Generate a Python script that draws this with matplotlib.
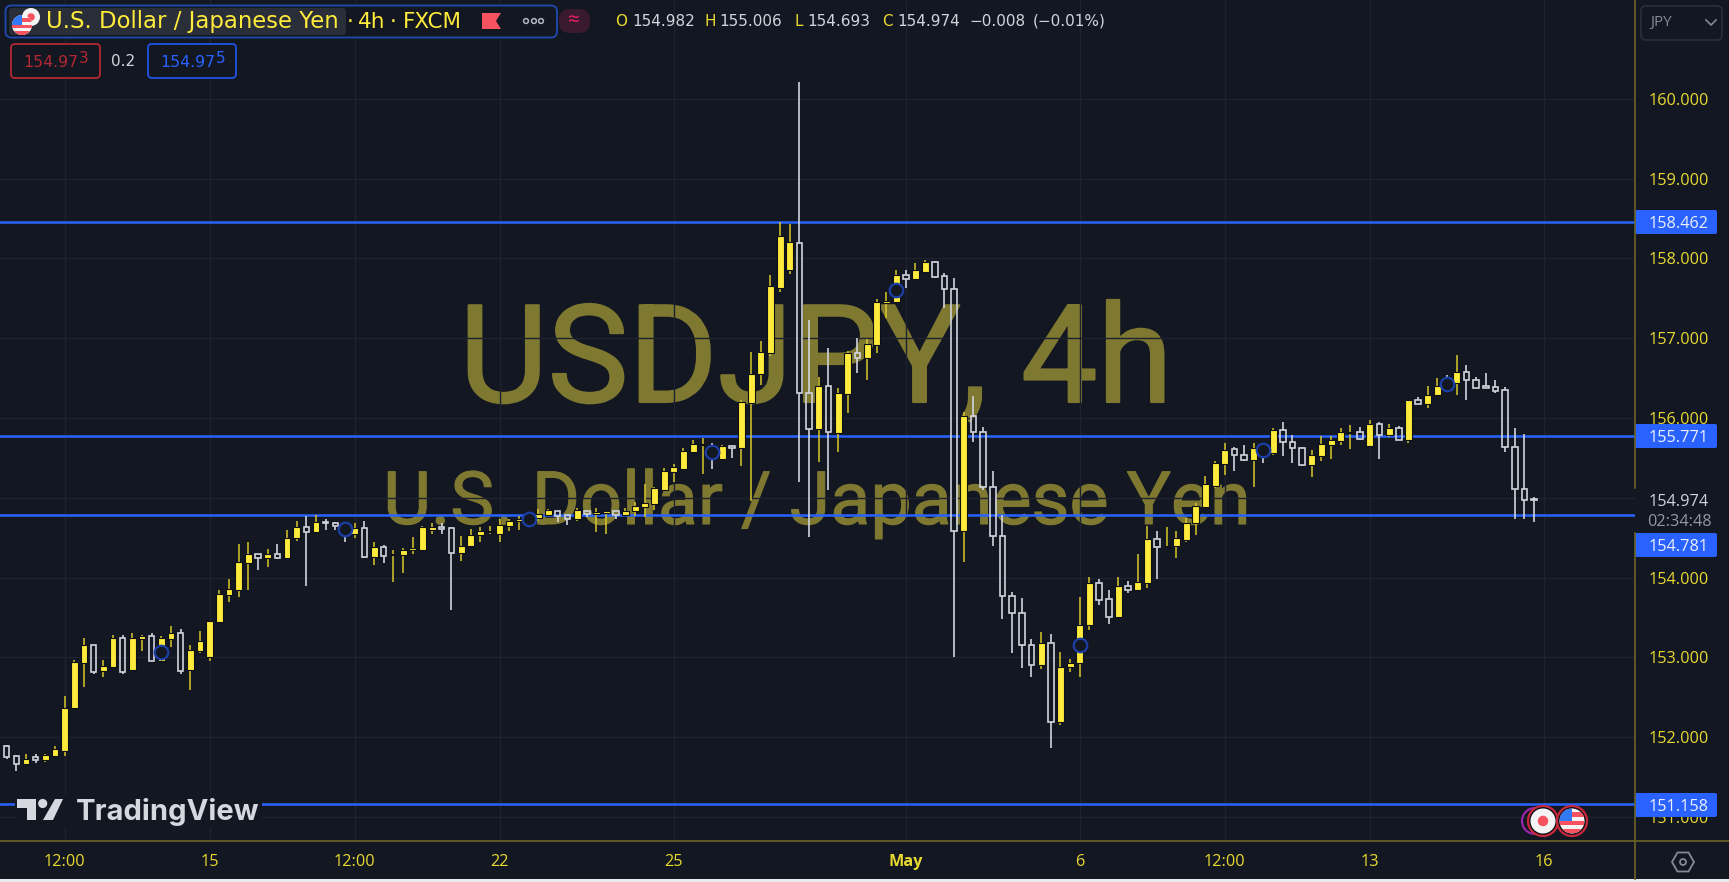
import matplotlib
matplotlib.use("Agg")
import matplotlib.pyplot as plt
import matplotlib.patheffects as pe
from matplotlib.patches import Circle, FancyBboxPatch, Polygon, Rectangle

plt.rcParams["font.family"] = ["Open Sans", "DejaVu Sans"]

W, H = 1729, 882
BG = "#131722"
YELLOW = "#ffeb3b"
WICK_YELLOW = "#d9c82c"
WHITE = "#d1d4dc"
BLUE = "#2962ff"
OLIVE = "#6b6426"
TICK = "#e8d931"

# 4h candles
opens = [151.89, 151.77, 151.66, 151.75, 151.71, 151.77, 151.83, 152.36, 152.93, 153.15,
         152.83, 152.88, 153.24, 152.84, 153.23, 153.27, 152.96, 153.23, 153.31, 152.84,
         153.08, 153.01, 153.44, 153.78, 153.85, 154.18, 154.29, 154.25, 154.29, 154.25,
         154.49, 154.63, 154.57, 154.70, 154.69, 154.63, 154.55, 154.62, 154.26, 154.38,
         154.28, 154.28, 154.34, 154.35, 154.60, 154.63, 154.62, 154.31, 154.40, 154.53,
         154.57, 154.54, 154.65, 154.71, 154.71, 154.75, 154.78, 154.83, 154.78, 154.73,
         154.84, 154.80, 154.81, 154.83, 154.78, 154.83, 154.89, 154.92, 155.10, 155.32,
         155.36, 155.57, 155.66, 155.62, 155.49, 155.65, 155.62, 156.19, 156.55, 156.81,
         157.63, 157.85, 158.19, 156.31, 155.86, 156.40, 155.81, 156.30, 156.81, 156.75,
         156.91, 157.44, 157.45, 157.79, 157.74, 157.83, 157.95, 157.78, 157.62, 154.58,
         156.02, 155.83, 155.14, 154.52, 153.77, 153.56, 153.16, 152.90, 153.18, 152.19,
         152.88, 152.93, 153.40, 153.93, 153.73, 153.51, 153.90, 153.85, 153.93, 154.48,
         154.38, 154.40, 154.47, 154.68, 154.89, 155.15, 155.42, 155.61, 155.54, 155.47,
         155.63, 155.56, 155.85, 155.70, 155.63, 155.41, 155.52, 155.66, 155.71, 155.81,
         155.82, 155.65, 155.93, 155.79, 155.88, 155.73, 156.23, 156.18, 156.29, 156.48,
         156.44, 156.58, 156.48, 156.40, 156.39, 156.35, 155.64, 155.11, 154.982]
highs = [151.90, 151.78, 151.79, 151.79, 151.79, 151.89, 152.51, 152.97, 153.24, 153.16,
         152.97, 153.28, 153.28, 153.31, 153.28, 153.30, 153.27, 153.39, 153.36, 153.16,
         153.33, 153.46, 153.84, 153.98, 154.42, 154.45, 154.30, 154.36, 154.42, 154.60,
         154.71, 154.77, 154.78, 154.74, 154.70, 154.68, 154.69, 154.71, 154.45, 154.41,
         154.34, 154.37, 154.51, 154.65, 154.68, 154.68, 154.63, 154.52, 154.61, 154.64,
         154.65, 154.74, 154.74, 154.77, 154.78, 154.86, 154.86, 154.84, 154.79, 154.87,
         154.85, 154.87, 154.84, 154.84, 154.87, 154.95, 155.17, 155.14, 155.37, 155.42,
         155.62, 155.73, 155.75, 155.69, 155.66, 155.66, 156.23, 156.83, 156.96, 157.79,
         158.45, 158.43, 160.21, 157.23, 156.51, 156.88, 156.38, 156.84, 157.00, 156.99,
         157.49, 157.58, 157.85, 157.85, 157.94, 157.98, 157.97, 157.82, 157.75, 156.08,
         156.28, 155.89, 155.34, 154.78, 153.82, 153.74, 153.23, 153.32, 153.29, 153.07,
         152.98, 153.76, 154.01, 153.98, 153.85, 154.01, 153.96, 154.30, 154.65, 154.58,
         154.63, 154.59, 154.75, 154.93, 155.27, 155.46, 155.69, 155.64, 155.66, 155.69,
         155.66, 155.87, 155.95, 155.79, 155.64, 155.60, 155.77, 155.77, 155.88, 155.91,
         155.89, 155.97, 155.95, 155.92, 155.90, 156.23, 156.26, 156.40, 156.50, 156.54,
         156.79, 156.66, 156.51, 156.57, 156.48, 156.39, 155.88, 155.80, 155.006]
lows = [151.73, 151.57, 151.65, 151.68, 151.69, 151.77, 151.77, 152.36, 152.63, 152.79,
        152.75, 152.87, 152.79, 152.83, 153.08, 152.95, 152.95, 153.13, 152.79, 152.59,
        153.05, 152.96, 153.43, 153.69, 153.76, 153.84, 154.10, 154.13, 154.23, 154.24,
        154.46, 153.89, 154.56, 154.60, 154.60, 154.45, 154.49, 154.25, 154.16, 154.18,
        153.95, 154.06, 154.30, 154.34, 154.55, 154.54, 153.59, 154.21, 154.39, 154.45,
        154.55, 154.44, 154.58, 154.60, 154.69, 154.71, 154.77, 154.70, 154.66, 154.71,
        154.76, 154.57, 154.55, 154.73, 154.77, 154.77, 154.76, 154.85, 155.09, 155.20,
        155.35, 155.56, 155.30, 155.36, 155.48, 155.50, 155.40, 154.96, 156.41, 156.78,
        157.58, 157.80, 155.20, 154.51, 155.45, 155.10, 155.58, 156.06, 156.56, 156.48,
        156.81, 157.25, 157.44, 157.63, 157.73, 157.82, 157.76, 157.38, 153.01, 154.20,
        155.70, 155.10, 154.40, 153.48, 153.06, 152.87, 152.76, 152.85, 151.87, 152.15,
        152.82, 152.76, 153.34, 153.66, 153.42, 153.50, 153.81, 153.84, 153.87, 153.98,
        154.37, 154.24, 154.45, 154.53, 154.88, 155.12, 155.28, 155.33, 155.46, 155.14,
        155.43, 155.53, 155.52, 155.43, 155.40, 155.26, 155.46, 155.49, 155.66, 155.61,
        155.73, 155.64, 155.49, 155.76, 155.72, 155.69, 156.17, 156.12, 156.28, 156.35,
        156.29, 156.23, 156.37, 156.37, 156.31, 155.58, 154.74, 154.74, 154.693]
closes = [151.75, 151.66, 151.73, 151.72, 151.78, 151.85, 152.37, 152.94, 153.15, 152.82,
          152.89, 153.24, 152.82, 153.24, 153.27, 152.96, 153.24, 153.31, 152.83, 153.09,
          153.21, 153.46, 153.79, 153.86, 154.19, 154.29, 154.25, 154.29, 154.25, 154.50,
          154.64, 154.57, 154.70, 154.68, 154.65, 154.58, 154.62, 154.26, 154.38, 154.27,
          154.30, 154.35, 154.37, 154.63, 154.63, 154.61, 154.31, 154.40, 154.53, 154.58,
          154.59, 154.66, 154.71, 154.73, 154.76, 154.80, 154.85, 154.77, 154.73, 154.85,
          154.80, 154.82, 154.83, 154.79, 154.84, 154.90, 154.94, 155.12, 155.33, 155.38,
          155.59, 155.67, 155.68, 155.54, 155.65, 155.63, 156.20, 156.55, 156.83, 157.65,
          158.28, 158.20, 156.31, 155.86, 156.40, 155.82, 156.31, 156.81, 156.75, 156.93,
          157.45, 157.47, 157.79, 157.74, 157.85, 157.95, 157.77, 157.62, 154.58, 156.02,
          155.83, 155.13, 154.52, 153.77, 153.55, 153.16, 152.90, 153.18, 152.19, 152.88,
          152.93, 153.41, 153.93, 153.72, 153.51, 153.90, 153.85, 153.95, 154.48, 154.38,
          154.40, 154.49, 154.69, 154.90, 155.17, 155.43, 155.60, 155.54, 155.47, 155.62,
          155.56, 155.85, 155.70, 155.62, 155.41, 155.53, 155.67, 155.72, 155.82, 155.83,
          155.74, 155.93, 155.79, 155.88, 155.73, 156.22, 156.18, 156.29, 156.40, 156.37,
          156.58, 156.48, 156.38, 156.38, 156.34, 155.64, 155.11, 154.97, 154.974]

# blue circle events
event_index = [16, 35, 54, 73, 92, 111, 130, 149]
event_price = [153.07, 154.61, 154.73, 155.58, 157.61, 153.16, 155.60, 156.43]

# horizontal levels drawn on the chart
levels = [158.462, 155.771, 154.781, 151.158]

y_ticks = [160, 159, 158, 157, 156, 155, 154, 153, 152, 151]
y_tick_labels = ["160.000", "159.000", "158.000", "157.000", "156.000", "",
                 "154.000", "153.000", "152.000", "151.000"]
x_ticks = [6, 21, 36, 51, 69, 93, 111, 126, 141, 159]
x_tick_labels = ["12:00", "15", "12:00", "22", "25", "May", "6", "12:00", "13", "16"]

fig = plt.figure(figsize=(W / 100, H / 100), dpi=100, facecolor=BG)

# main price pane, right edge at x=1635 and bottom edge at y=841
ax = fig.add_axes([0, 1 - 841 / H, 1635 / W, 841 / H], facecolor=BG)
ax.set_xlim(-0.69, 168.44)
ax.set_ylim(150.699, 161.238)
for s in ax.spines.values():
    s.set_visible(False)
ax.yaxis.tick_right()
ax.set_yticks(y_ticks, y_tick_labels)
ax.set_xticks(x_ticks, x_tick_labels)
ax.tick_params(axis="y", length=0, pad=9.5, labelsize=11.7, labelcolor=TICK)
ax.tick_params(axis="x", length=0, pad=9.5, labelsize=11.7, labelcolor=TICK)
for lab in ax.get_xticklabels():
    if lab.get_text() == "May":
        lab.set_fontweight("bold")
ax.grid(True, color="#1e222e", linewidth=1)
ax.set_axisbelow(True)

# pixel layer for the interface parts
ui = fig.add_axes([0, 0, 1, 1], zorder=5)
ui.set_xlim(0, W)
ui.set_ylim(H, 0)
ui.axis("off")

# watermark sits behind the grid
ax.text(816, 402, "USDJPY, 4h", transform=ui.transData, fontsize=98, color="#7e7831", family="Roboto",
        ha="center", va="baseline", zorder=0.2,
        path_effects=[pe.withStroke(linewidth=1.5, foreground="#7e7831")])
ax.text(817, 524, "U.S. Dollar / Japanese Yen", transform=ui.transData, fontsize=53, color="#7e7831",
        family="Roboto", ha="center", va="baseline", zorder=0.2,
        path_effects=[pe.withStroke(linewidth=0.8, foreground="#7e7831")])

for lv in levels:
    ax.axhline(lv, color=BLUE, linewidth=1.8, zorder=2)

# candles
for i in range(len(opens)):
    o, h, l, c = opens[i], highs[i], lows[i], closes[i]
    top, bottom = max(o, c), min(o, c)
    if c >= o:
        ax.vlines(i, l, h, color=WICK_YELLOW, linewidth=1.1, zorder=3)
        ax.bar(i, top - bottom, 0.72, bottom, facecolor=YELLOW, edgecolor="#0d1017", linewidth=0.8, zorder=4)
    else:
        # hollow body, so the wick stops at its edges
        ax.vlines([i, i], [top, l], [h, bottom], color=WHITE, linewidth=1.2, zorder=3)
        ax.bar(i, top - bottom, 0.58, bottom, facecolor="none", edgecolor=WHITE, linewidth=1.2, zorder=4)

ax.scatter(event_index, event_price, s=95, facecolor=BG, edgecolor="#1b3fa6", linewidth=1.6, zorder=5)


def rbox(x0, y0, x1, y1, fc, ec="none", lw=1.0, r=3):
    ui.add_patch(FancyBboxPatch((x0, y0), x1 - x0, y1 - y0, boxstyle=f"round,pad=0,rounding_size={r}",
                                facecolor=fc, edgecolor=ec, linewidth=lw))


def txt(x, y, s, color=WHITE, size=11.7, ha="left", **kw):
    ui.text(x, y + 1.5, s, color=color, fontsize=size, ha=ha, va="center", **kw)


def us_flag(cx, cy, r):
    disc = Circle((cx, cy), r, facecolor="#f4f4f4", edgecolor="none")
    ui.add_patch(disc)
    for k in range(3):
        st = Rectangle((cx - r, cy - r + 0.3 * r + k * 0.66 * r), 2 * r, 0.36 * r, facecolor="#f7525f")
        ui.add_patch(st)
        st.set_clip_path(disc)
    can = Rectangle((cx - r, cy - r), r, r, facecolor="#3179f5")
    ui.add_patch(can)
    can.set_clip_path(disc)


def jp_flag(cx, cy, r):
    ui.add_patch(Circle((cx, cy), r, facecolor="#f4f4f4", edgecolor="none"))
    ui.add_patch(Circle((cx, cy), r * 0.42, facecolor="#f7525f", edgecolor="none"))


# axis borders, the price column has a gap behind the countdown
ui.plot([0, W], [841, 841], color=OLIVE, linewidth=1.2)
ui.plot([1635, 1635], [0, 488], color=OLIVE, linewidth=1.2)
ui.plot([1635, 1635], [533, 879], color=OLIVE, linewidth=1.2)
ui.add_patch(Rectangle((0, 879), W, 3, facecolor="#e9eaee", edgecolor="none"))

# header
rbox(5.5, 5.5, 557, 37.5, BG, ec="#1f47a8", lw=1.4, r=6)
rbox(9, 8, 346, 35, "#2a2e39", r=4)
rbox(559, 9, 590, 33, "#3a1a2e", r=11)
txt(574, 19.5, "≈", color="#e91e63", size=15, ha="center")
jp_flag(31, 17, 9)
us_flag(22, 25, 10)
HEAD = "DejaVu Sans"
txt(46, 20, "U.S. Dollar / Japanese Yen", color=YELLOW, size=16.4, family=HEAD)
txt(347, 20, "·", color=YELLOW, size=15.5, family=HEAD)
txt(358, 20, "4h", color=YELLOW, size=15.5, family=HEAD)
txt(390, 20, "·", color=YELLOW, size=15.5, family=HEAD)
txt(403, 20, "FXCM", color=YELLOW, size=15.5, family=HEAD)
ui.add_patch(Polygon([(482, 13), (501, 13), (496, 21), (501, 29), (482, 29)], facecolor="#f7525f"))
for cx in (526, 534, 541):
    ui.add_patch(Circle((cx, 21), 2.4, facecolor="none", edgecolor="#b2b5be", linewidth=1.1))
for lx, vx, letter, value in [(615, 632, "O", "154.982"), (705, 719, "H", "155.006"),
                              (795, 807, "L", "154.693"), (882, 897, "C", "154.974")]:
    txt(lx, 20, letter, color=TICK, size=11, family=HEAD)
    txt(vx, 20, value, color=WHITE, size=11, family=HEAD)
txt(969, 20, "−0.008", color=WHITE, size=11, family=HEAD)
txt(1033, 20, "(−0.01%)", color=WHITE, size=11, family=HEAD)

# bid / ask
rbox(11, 44, 100, 78, BG, ec="#b22833", lw=1.3, r=4)
txt(23, 61, "154.97", color="#b22833", size=11.3, family=HEAD)
txt(79, 57, "3", color="#b22833", size=11, family=HEAD)
txt(123, 60, "0.2", color=WHITE, size=11, ha="center", family=HEAD)
rbox(148, 44, 236, 78, BG, ec="#1e53e5", lw=1.3, r=4)
txt(160, 61, "154.97", color="#2962ff", size=11.3, family=HEAD)
txt(216, 57, "5", color="#2962ff", size=11, family=HEAD)

# currency button
rbox(1641, 6, 1722, 40, BG, ec="#2a2e39", lw=1.3, r=5)
txt(1650, 21, "JPY", color="#868993", size=11)
ui.plot([1706, 1711, 1716], [20, 25, 20], color="#868993", linewidth=1.2)

# price labels
for y, s in [(222, "158.462"), (436, "155.771"), (545, "154.781"), (805, "151.158")]:
    rbox(1635, y - 12, 1717, y + 12, BLUE, r=2)
    txt(1679, y + 0.5, s, color="#ecf0fb", size=11.7, ha="center")
txt(1679, 500, "154.974", color=WHITE, size=11.7, ha="center")
txt(1679, 521, "02:34:48", color="#9598a1", size=11.7, ha="center")

# logo block hides the blue level behind it
ui.add_patch(Rectangle((15, 794), 247, 33, facecolor=BG, edgecolor="none"))
LOGO = "#d6d8df"
ui.add_patch(Polygon([(17, 799), (36, 799), (36, 820), (27, 820), (27, 808), (17, 808)], facecolor=LOGO))
ui.add_patch(Circle((42.7, 803.5), 4.6, facecolor=LOGO))
ui.add_patch(Polygon([(55, 799), (63, 799), (53, 820), (43, 820)], facecolor=LOGO))
txt(76, 811, "TradingView", color=LOGO, size=21, family="Inter", fontweight="bold")

# calendar event icons
ui.add_patch(Circle((1535, 821), 13, facecolor="none", edgecolor="#9c27b0", linewidth=1.5))
for cx, drawer in [(1543, jp_flag), (1572, us_flag)]:
    ui.add_patch(Circle((cx, 821), 15, facecolor="#0d1017", edgecolor="#c8283c", linewidth=1.6))
    drawer(cx, 821, 12.5)

# settings hexagon
ui.add_patch(Polygon([(1672, 862), (1677.5, 852.5), (1688.5, 852.5), (1694, 862), (1688.5, 871.5), (1677.5, 871.5)],
                     facecolor="none", edgecolor="#868993", linewidth=1.3))
ui.add_patch(Circle((1683, 862), 3, facecolor="none", edgecolor="#868993", linewidth=1.3))

fig.savefig("out.png", dpi=100, facecolor=BG)
